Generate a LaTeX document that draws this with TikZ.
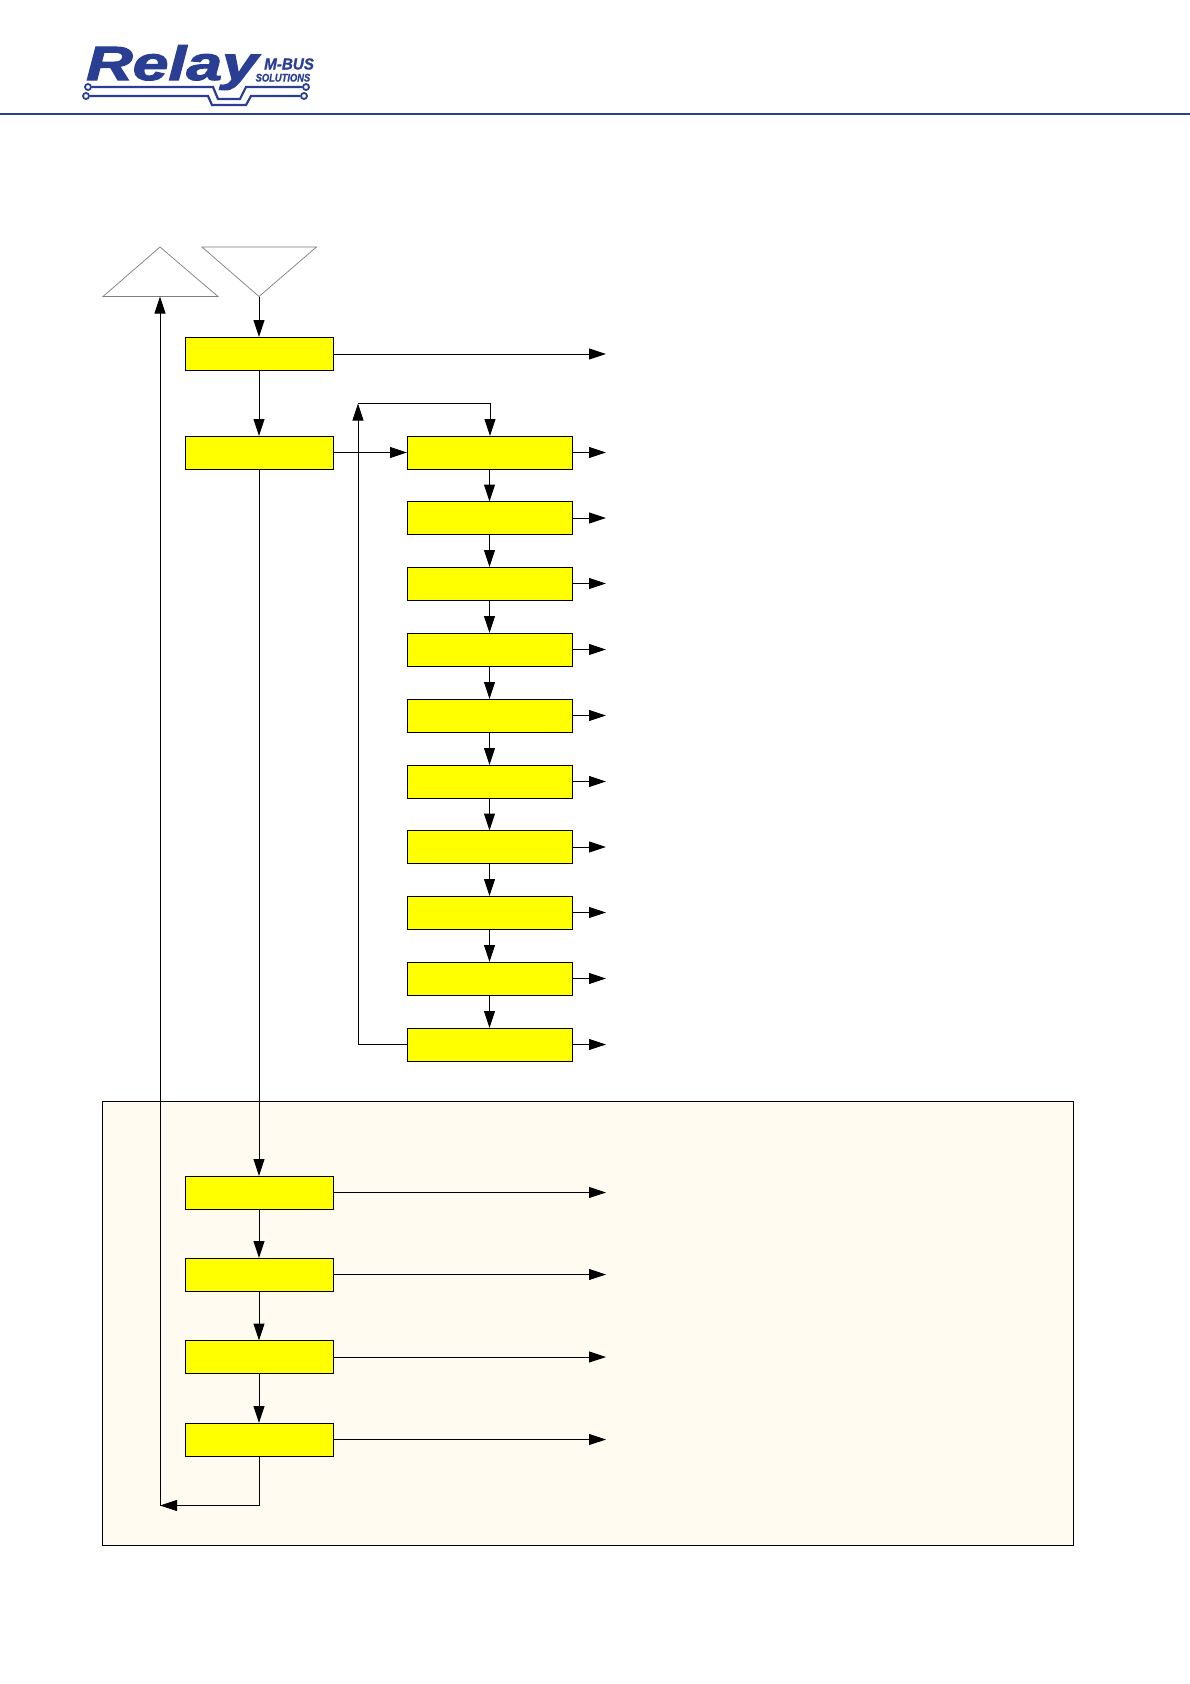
\documentclass[tikz,border=0pt]{standalone}
\usepackage{fontspec}
\setmainfont{Liberation Sans}
\newfontfamily\logofont[FakeBold=2.2]{Liberation Sans Bold Italic}
\newfontfamily\logosmall[FakeBold=1.2]{Liberation Sans Bold Italic}
\usetikzlibrary{arrows.meta}
\definecolor{logoblue}{RGB}{42,63,148}
\definecolor{panelcream}{RGB}{255,251,240}
\definecolor{triline}{RGB}{125,125,125}
\definecolor{pureyellow}{RGB}{255,255,0}
\tikzset{
  x=1pt,y=-1pt,
  flowbox/.style={draw=black,fill=pureyellow,line width=1pt,minimum height=33pt,inner sep=0pt,outer sep=0pt},
  widebox/.style={flowbox,minimum width=147.5pt},
  sidebox/.style={flowbox,minimum width=165pt},
  conn/.style={line width=1pt,-{Triangle[length=17pt,width=11pt]}},
  tri/.style={draw=triline,line width=0.7pt,fill=white},
  trace/.style={draw=logoblue,line width=2.2pt},
  pad/.style={draw=logoblue,line width=1.8pt,fill=white,circle,inner sep=0pt,minimum size=6pt}
}
\begin{document}
\begin{tikzpicture}
\useasboundingbox (0,0) rectangle (1190,1684);
% header
\draw[draw=logoblue,line width=1.6pt] (0,114) -- (1190,114);
\node[anchor=base west,inner sep=0pt,text=logoblue,font=\fontsize{48}{48}\logofont,xscale=1.34] (relay) at (86,80) {Relay};
\node[anchor=base west,inner sep=0pt,text=logoblue,font=\fontsize{16}{16}\logosmall,xscale=0.95] (mbus) at (264,69.5) {M-BUS};
\node[anchor=base west,inner sep=0pt,text=logoblue,font=\fontsize{11}{11}\logosmall,xscale=0.85] (sol) at (255.5,81.5) {SOLUTIONS};
\node[pad] (pa) at (88,87) {};
\node[pad] (pb) at (306,87) {};
\node[pad] (pc) at (86,96) {};
\node[pad] (pd) at (304,96) {};
\draw[trace] (pa) -- (213,87) -- (218,99) -- (240,99) -- (246,87) -- (pb);
\draw[trace] (pc) -- (208,96) -- (212,105) -- (246,105) -- (251,96) -- (pd);
% panel
\node[draw=black,fill=panelcream,line width=0.8pt,minimum width=971pt,minimum height=443.5pt,inner sep=0pt,outer sep=0pt,anchor=north west] (panel) at (102,1101.5) {};
% triangles
\draw[tri] (160,247) -- (218,296.5) -- (103,296.5) -- cycle;
\draw[tri] (202,247) -- (316.5,247) -- (259,296.5) -- cycle;
\coordinate (triup) at (160,296.5);
\coordinate (tridown) at (259,296.5);
% boxes
\node[widebox] (a1) at (259.25,353.5) {};
\node[widebox] (a2) at (259.25,452.5) {};
\foreach \n/\y in {1/452.5,2/518,3/583.5,4/649.5,5/715.5,6/781.5,7/847,8/912.5,9/978.5,10/1044.5}{
  \node[sidebox] (r\n) at (489.5,\y) {};
  \coordinate (e\n) at (606,\y);
  \draw[conn] (r\n.east) -- (e\n);
}
\foreach \n/\y in {1/1192.5,2/1274.5,3/1357,4/1439.5}{
  \node[widebox] (b\n) at (259.25,\y) {};
  \coordinate (f\n) at (606,\y);
  \draw[conn] (b\n.east) -- (f\n);
}
\coordinate (e0) at (606,354);
% connectors
\draw[conn] (tridown) -- (tridown |- a1.north);
\draw[conn] (a1.east |- e0) -- (e0);
\draw[conn] (tridown |- a1.south) -- (tridown |- a2.north);
\draw[conn] (a2.east) -- (r1.west);
\draw[conn] (tridown |- a2.south) -- (tridown |- b1.north);
\foreach \i/\j in {1/2,2/3,3/4,4/5,5/6,6/7,7/8,8/9,9/10}{
  \draw[conn] (r\i.south) -- (r\j.north);
}
\foreach \i/\j in {1/2,2/3,3/4}{
  \draw[conn] (tridown |- b\i.south) -- (tridown |- b\j.north);
}
\coordinate (loopb) at (358,1044.5);
\coordinate (loopt) at (358,403.5);
\coordinate (looptr) at (490,403.5);
\draw[conn] (r10.west) -- (loopb) -- (loopt);
\draw[conn] (loopt) -- (looptr) -- (looptr |- r1.north);
\coordinate (retc) at (259,1505.5);
\coordinate (retl) at (160,1505.5);
\draw[conn] (tridown |- b4.south) -- (retc) -- (retl);
\draw[conn] (retl) -- (triup);
\end{tikzpicture}
\end{document}
